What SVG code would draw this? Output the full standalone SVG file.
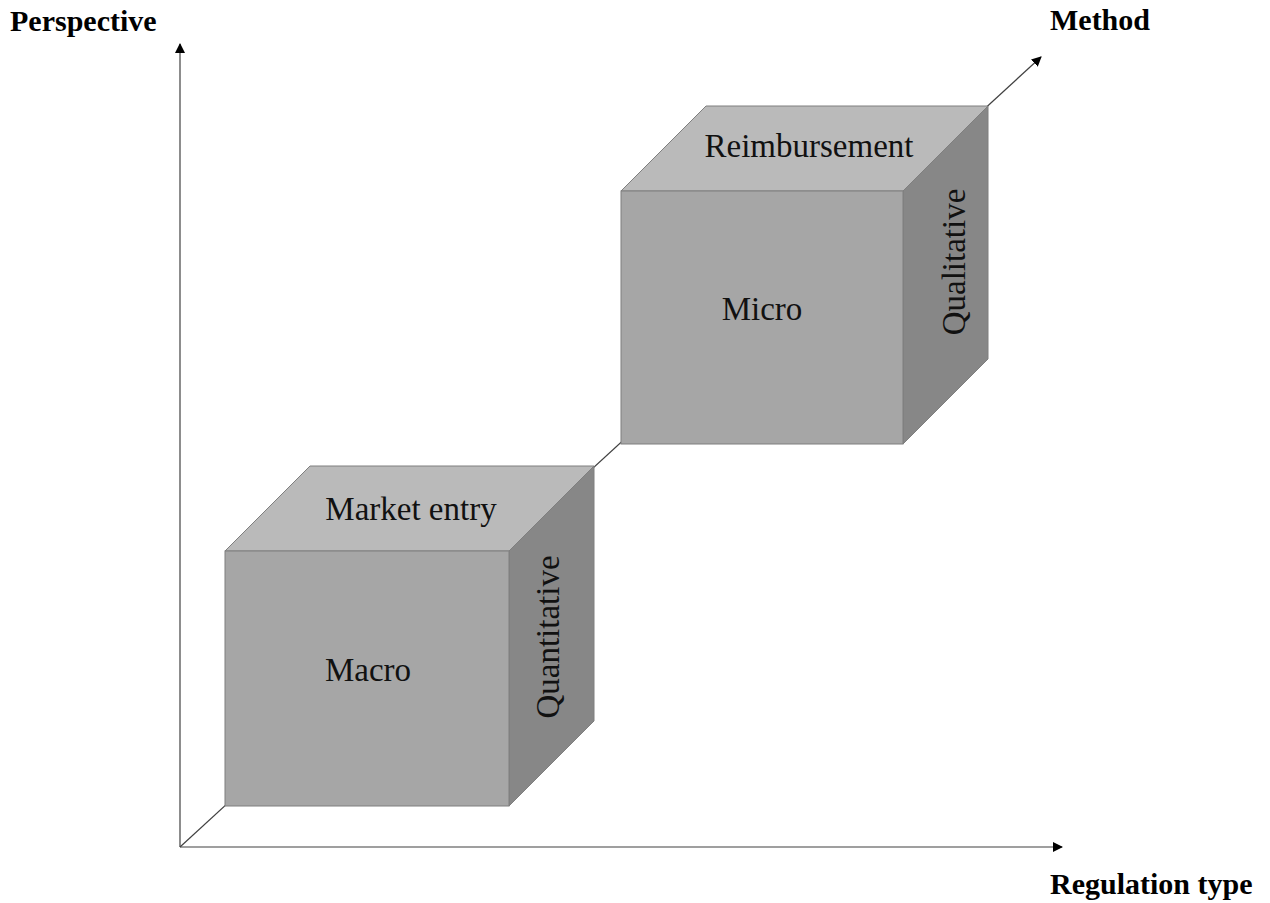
<svg xmlns="http://www.w3.org/2000/svg" width="1270" height="903" viewBox="0 0 1270 903">
  <style>
    .axis { stroke: #404040; stroke-width: 1.2; fill: none; }
    .front { fill: #a6a6a6; stroke: #7f7f7f; stroke-width: 1; }
    .top { fill: #bababa; stroke: #7f7f7f; stroke-width: 1; }
    .side { fill: #878787; stroke: #7f7f7f; stroke-width: 1; }
    .title { font-family: "Liberation Serif", "Times New Roman", serif; font-weight: bold; font-size: 30px; fill: #000; }
    .label { font-family: "Liberation Serif", "Times New Roman", serif; font-size: 33px; fill: #111; text-anchor: middle; }
  </style>
  <defs>
    <marker id="arrow" viewBox="0 0 10 10" refX="9" refY="5" markerWidth="10" markerHeight="10" markerUnits="userSpaceOnUse" orient="auto">
      <path d="M0,0 L10,5 L0,10 z" fill="#000"/>
    </marker>
  </defs>
  <rect width="1270" height="903" fill="#fff"/>

  <g id="axes">
    <line class="axis" x1="180" y1="847" x2="180" y2="44" marker-end="url(#arrow)"/>
    <line class="axis" x1="180" y1="847" x2="1062" y2="847" marker-end="url(#arrow)"/>
    <line class="axis" x1="180" y1="847" x2="1041" y2="57" marker-end="url(#arrow)"/>
  </g>

  <g id="axis-titles">
    <text class="title" x="10" y="31">Perspective</text>
    <text class="title" x="1050" y="30">Method</text>
    <text class="title" x="1050" y="894">Regulation type</text>
  </g>

  <g id="cube-macro">
    <polygon class="top" points="225,551 310,466 594,466 509,551"/>
    <polygon class="side" points="509,551 594,466 594,721 509,806"/>
    <rect class="front" x="225" y="551" width="284" height="255"/>
    <text class="label" x="411" y="520">Market entry</text>
    <text class="label" x="368" y="681">Macro</text>
    <text class="label" transform="translate(559,637) rotate(-90)">Quantitative</text>
  </g>

  <g id="cube-micro">
    <polygon class="top" points="621,191 706,106 988,106 903,191"/>
    <polygon class="side" points="903,191 988,106 988,359 903,444"/>
    <rect class="front" x="621" y="191" width="282" height="253"/>
    <text class="label" x="809" y="157">Reimbursement</text>
    <text class="label" x="762" y="320">Micro</text>
    <text class="label" transform="translate(965,262) rotate(-90)">Qualitative</text>
  </g>
</svg>
